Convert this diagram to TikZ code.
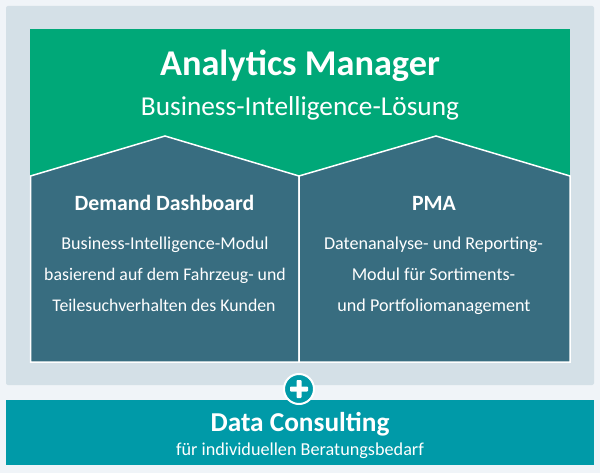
\documentclass[tikz,border=0pt]{standalone}
\usepackage{fontspec}
\setmainfont{Carlito}
\definecolor{pagebg}{HTML}{F0F4F8}
\definecolor{panelbg}{HTML}{D4E0E7}
\definecolor{topgreen}{HTML}{00A878}
\definecolor{modblue}{HTML}{386D80}
\definecolor{consult}{HTML}{009AA8}
\tikzset{
  txt/.style={text=white,inner sep=0pt,anchor=base,align=center},
  modshape/.style={fill=modblue,draw=white,line width=1.5pt,line join=miter},
}
\newcommand{\fs}[1]{\fontsize{#1}{#1}\selectfont}
\begin{document}
\begin{tikzpicture}[x=1pt,y=-1pt]
\useasboundingbox (0,0) rectangle (600,473);
\fill[pagebg] (0,0) rectangle (600,473);
\fill[panelbg,rounded corners=2pt] (6,6) rectangle (594,385);
\fill[topgreen] (30,29) rectangle (570,176);
\draw[modshape] (30.5,176) -- (165,136) -- (299,176) -- (299,362) -- (30.5,362) -- cycle;
\draw[modshape] (299,176) -- (436,136) -- (570,176) -- (570,362) -- (299,362) -- cycle;
\fill[consult] (6,400) rectangle (594,465);
\node[circle,fill=consult,draw=white,line width=2pt,minimum size=30pt,inner sep=0pt] (plus) at (299,389) {};
\fill[white,rounded corners=0.8pt] (plus.center) ++(-9,-2.5) rectangle ++(18,5);
\fill[white,rounded corners=0.8pt] (plus.center) ++(-2.5,-9) rectangle ++(5,18);
\node[txt] (title) at (300,76) {\fs{36.3}\bfseries Analytics Manager};
\node[txt] (sub) at (300,116) {\fs{27.3}Business-Intelligence-Lösung};
\node[txt] (dd) at (164.5,211) {\fs{21.8}\bfseries Demand Dashboard};
\node[txt] (d1) at (165,250) {\fs{18.1}Business-Intelligence-Modul};
\node[txt] (d2) at (165,280) {\fs{17.8}basierend auf dem Fahrzeug- und};
\node[txt] (d3) at (164,312) {\fs{17.8}Teilesuchverhalten des Kunden};
\node[txt] (pma) at (434,211) {\fs{21.8}\bfseries PMA};
\node[txt] (p1) at (433.5,250) {\fs{18.1}Datenanalyse- und Reporting-};
\node[txt] (p2) at (433.5,280) {\fs{18.1}Modul für Sortiments-};
\node[txt] (p3) at (434,312) {\fs{18.1}und Portfoliomanagement};
\node[txt] (dc) at (300,431) {\fs{27.3}\bfseries Data Consulting};
\node[txt] (dc2) at (300,455) {\fs{18.2}für individuellen Beratungsbedarf};
\end{tikzpicture}
\end{document}
